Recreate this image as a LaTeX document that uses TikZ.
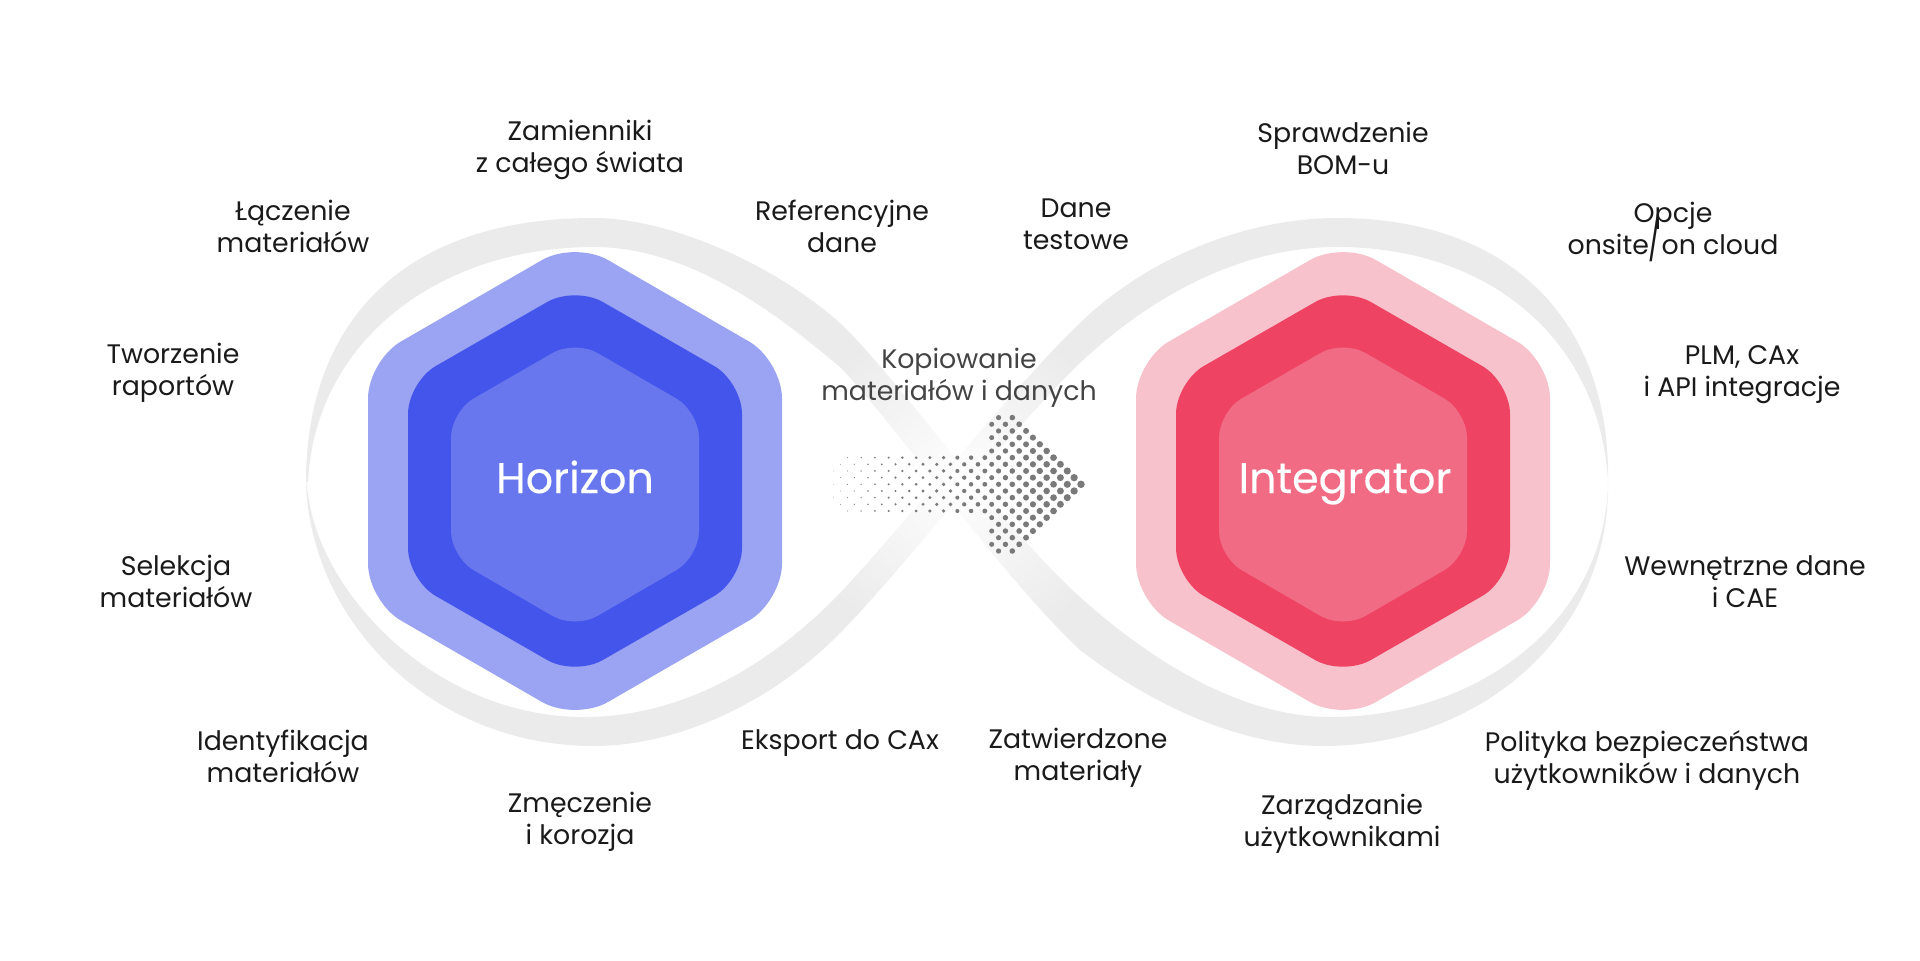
\documentclass[tikz,border=0pt]{standalone}
\usepackage{fontspec}
\setmainfont{Poppins}
\newfontfamily\corefont[FakeBold=0.25]{Poppins}
\usetikzlibrary{fadings}
\definecolor{bandgray}{HTML}{EBEBEB}
\definecolor{dotgray}{HTML}{7A7A7A}
\definecolor{inkblack}{HTML}{1A1A1A}
\definecolor{inkgray}{HTML}{444444}
\definecolor{blueout}{HTML}{9BA3F3}
\definecolor{bluemid}{HTML}{4355EB}
\definecolor{bluein}{HTML}{6877EE}
\definecolor{redout}{HTML}{F7C2CC}
\definecolor{redmid}{HTML}{EE4363}
\definecolor{redin}{HTML}{F16B85}
\tikzfading[name=crossfade, inner color=transparent!0, outer color=transparent!100]
\tikzset{
feature/.style={%
    align=center,
    inner sep=0pt,
    text=inkblack,
    font=\fontsize{13.4}{16}\selectfont
},
arrowtext/.style={%
    feature,
    text=inkgray
},
core/.style={%
    inner sep=0pt,
    anchor=base,
    text=white,
    font=\fontsize{21.4}{24}\corefont
},
}

\begin{document}
\begin{tikzpicture}[x=0.5pt, y=-0.5pt]
	\useasboundingbox (0,0) rectangle (1920,960);

	% infinity band
	\fill[bandgray] (306,482) .. controls (306,330) and (395,218) .. (594,218)
		.. controls (670,218) and (775,265) .. (840,323)
		.. controls (900,380) and (1000,525) .. (1080,597)
		.. controls (1150,660) and (1240,717) .. (1330,717)
		.. controls (1480,717) and (1606,620) .. (1608,482)
		-- (1608,490) .. controls (1606,640) and (1475,746) .. (1323,746)
		.. controls (1235,746) and (1145,700) .. (1080,650)
		.. controls (1000,575) and (900,430) .. (840,367)
		.. controls (795,330) and (700,247) .. (594,247)
		.. controls (440,247) and (315,340) .. (308,482) -- cycle;
	\fill[bandgray] (306,482) .. controls (310,620) and (430,746) .. (594,746)
		.. controls (680,746) and (775,700) .. (840,633)
		.. controls (900,573) and (1010,430) .. (1080,363)
		.. controls (1150,297) and (1240,247) .. (1337,247)
		.. controls (1490,247) and (1600,340) .. (1608,482)
		-- (1608,470) .. controls (1606,320) and (1510,218) .. (1337,218)
		.. controls (1250,218) and (1150,255) .. (1080,323)
		.. controls (1010,390) and (900,530) .. (840,593)
		.. controls (790,645) and (700,717) .. (584,717)
		.. controls (440,717) and (325,600) .. (309,500) -- cycle;
	\fill[white, path fading=crossfade] (958,483) circle[radius=170];

	% hexagons
	\foreach \cx/\colout/\colmid/\colin in {575/blueout/bluemid/bluein, 1343/redout/redmid/redin}{
		\begin{scope}[shift={(\cx,0)}]
			\fill[\colout, rounded corners=19pt] (0,241) -- (207,360.5) -- (207,601.5) -- (0,721) -- (-207,601.5) -- (-207,360.5) -- cycle;
			\fill[\colmid, rounded corners=16pt] (0,286) -- (167,382) -- (167,580) -- (0,676) -- (-167,580) -- (-167,382) -- cycle;
			\fill[\colin, rounded corners=13pt] (0,340) -- (124,411.6) -- (124,557) -- (0,629) -- (-124,557) -- (-124,411.6) -- cycle;
		\end{scope}
	}

	% dotted arrow
	\foreach \i in {0,...,36}{
		\pgfmathtruncatemacro{\dotlim}{\i<14 ? min(\i,10) : (\i==35 ? 3 : (\i==36 ? 2 : 4))}
		\pgfmathtruncatemacro{\dotodd}{mod(\i,2)}
		\foreach \k in {-10,...,10}{
			\pgfmathtruncatemacro{\dotshow}{(abs(\k)<=\dotlim && mod(abs(\k),2)==\dotodd) ? 1 : 0}
			\ifnum\dotshow=1
				\fill[dotgray] ({1081-6.87*\i},{484.3+6.67*\k}) circle[radius={0.35+3.4*(36-\i)/36}];
			\fi
		}
	}

	\node[core] at (575,493) (horizon) {Horizon};
	\node[core] at (1345,493) (integrator) {Integrator};

	\node[arrowtext] at (959,378) (kopiowanie) {Kopiowanie\\materiałów i danych};

	\node[feature] at (580,150) (zamienniki) {Zamienniki\\z całego świata};
	\node[feature] at (293,226) (laczenie) {Łączenie\\materiałów};
	\node[feature] at (173,373) (raporty) {Tworzenie\\raportów};
	\node[feature] at (176,581) (selekcja) {Selekcja\\materiałów};
	\node[feature] at (283,756) (identyfikacja) {Identyfikacja\\materiałów};
	\node[feature] at (580,822) (zmeczenie) {Zmęczenie\\i korozja};
	\node[feature] at (840,743) (eksport) {Eksport do CAx};
	\node[feature] at (842,226) (referencyjne) {Referencyjne\\dane};

	\node[feature] at (1076,224) (testowe) {Dane\\testowe};
	\node[feature] at (1343,148) (bom) {Sprawdzenie\\BOM-u};
	\node[feature] at (1673,228) (opcje) {Opcje\\onsite\smash{\scalebox{1}[1.6]{/}}on cloud};
	\node[feature] at (1742,375) (plm) {PLM, CAx\\i API integracje};
	\node[feature] at (1745,582) (cae) {Wewnętrzne dane\\i CAE};
	\node[feature] at (1647,760) (polityka) {Polityka bezpieczeństwa\\użytkowników i danych};
	\node[feature] at (1342,824) (uzytkownicy) {Zarządzanie\\użytkownikami};
	\node[feature] at (1078,758) (zatwierdzone) {Zatwierdzone\\materiały};
\end{tikzpicture}
\end{document}
